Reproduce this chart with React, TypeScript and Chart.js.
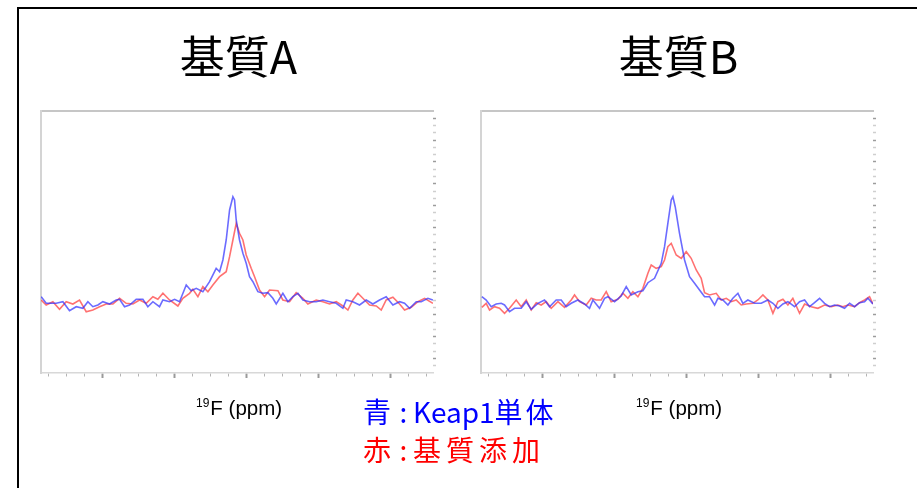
import React, { useEffect, useRef } from "react";
import { Chart, registerables } from "chart.js";

Chart.register(...registerables);

// ---- texts ----
const titleA = "基質A";
const titleB = "基質B";
const xAxisSup = "19";
const xAxisMain = "F (ppm)";
const legendBlueKey = "青";
const legendBlueName = ["Keap1", "単体"];
const legendRedKey = "赤";
const legendRedName = ["", "基質添加"];
const legendSep = ":";

// ---- axes (arbitrary ppm offset / intensity units) ----
const xMin = -0.85;
const xMax = 4.594;
const yMin = 0;
const yMax = 262;
const xTickValues = [-0.75, -0.5, -0.25, 0, 0.25, 0.5, 0.75, 1, 1.25, 1.5, 1.75, 2, 2.25, 2.5, 2.75, 3, 3.25, 3.5, 3.75, 4, 4.25, 4.5];
const rightTickCount = 36;

// ---- 基質A : blue (Keap1 alone) ----
const blueAx = [-0.847, -0.778, -0.639, -0.546, -0.454, -0.361, -0.269, -0.199, -0.13, -0.06,
  0.009, 0.102, 0.194, 0.241, 0.31, 0.38, 0.472, 0.565, 0.634, 0.704,
  0.796, 0.843, 0.935, 1.005, 1.074, 1.167, 1.236, 1.306, 1.398, 1.491,
  1.583, 1.63, 1.676, 1.722, 1.769, 1.815, 1.838, 1.861, 1.907, 1.954,
  2.0, 2.046, 2.093, 2.162, 2.231, 2.301, 2.37, 2.417, 2.509, 2.579,
  2.648, 2.718, 2.787, 2.88, 2.972, 3.065, 3.157, 3.25, 3.343, 3.389,
  3.481, 3.574, 3.667, 3.759, 3.852, 3.944, 4.037, 4.13, 4.199, 4.269,
  4.361, 4.431, 4.523, 4.593];
const blueAy = [76.3, 69.7, 69.7, 71.3, 62.3, 66.3, 64.7, 71.3, 66.3, 68,
  71.3, 69, 73, 73.7, 66.3, 68, 73.7, 73.7, 66.3, 71.3,
  66.3, 73, 71.3, 73.7, 71.3, 88, 82.3, 84.7, 81.3, 91.3,
  104.7, 101.3, 113, 133, 163, 176.3, 173, 153, 133, 119.7,
  109.7, 96.3, 91.3, 81.3, 79.7, 80.3, 74.7, 69, 79.7, 71.3,
  76.3, 79.7, 73, 71.3, 71.3, 73, 71.3, 69.7, 64.7, 73,
  71.3, 68, 73, 69, 73, 76.3, 68, 71.3, 69.7, 64.7,
  71.3, 71.3, 74.7, 73];

// ---- 基質A : red (with substrate) ----
const redAx = [-0.847, -0.778, -0.685, -0.593, -0.5, -0.407, -0.315, -0.222, -0.13, -0.037,
  0.056, 0.148, 0.241, 0.333, 0.426, 0.519, 0.611, 0.704, 0.773, 0.843,
  0.935, 1.051, 1.12, 1.213, 1.259, 1.329, 1.398, 1.468, 1.537, 1.63,
  1.722, 1.769, 1.815, 1.861, 1.907, 1.954, 2.0, 2.069, 2.116, 2.185,
  2.255, 2.324, 2.44, 2.509, 2.602, 2.694, 2.787, 2.856, 2.972, 3.065,
  3.157, 3.25, 3.343, 3.412, 3.481, 3.551, 3.62, 3.713, 3.806, 3.875,
  3.944, 4.037, 4.13, 4.199, 4.292, 4.384, 4.477, 4.593];
const redAy = [73, 68, 71.3, 63.7, 71.3, 69, 73, 61.3, 63, 66.3,
  69, 69, 74.7, 69.7, 69, 73, 69.7, 76.3, 73.7, 79.7,
  73, 67, 74.7, 79.7, 83.7, 76.3, 86.3, 81.3, 88, 96.3,
  101.3, 116.3, 133, 149.7, 139.7, 133, 118, 104.7, 96.3, 83,
  76.3, 83, 82.3, 73, 71.3, 80.3, 74.7, 69, 73, 71.3,
  69, 71.3, 67, 63, 73, 79.7, 74.7, 68, 67, 63,
  73, 75.7, 69, 63, 65.7, 71.3, 74.7, 69.7];

// ---- 基質B : blue ----
const blueBx = [-0.838, -0.778, -0.708, -0.639, -0.569, -0.523, -0.454, -0.384, -0.292, -0.222,
  -0.153, -0.06, 0.032, 0.102, 0.194, 0.264, 0.333, 0.403, 0.495, 0.588,
  0.657, 0.704, 0.796, 0.866, 0.912, 1.005, 1.097, 1.167, 1.236, 1.329,
  1.398, 1.468, 1.56, 1.653, 1.699, 1.745, 1.792, 1.815, 1.847, 1.907,
  1.977, 2.046, 2.116, 2.185, 2.255, 2.324, 2.394, 2.44, 2.509, 2.579,
  2.648, 2.718, 2.787, 2.856, 2.949, 3.042, 3.134, 3.204, 3.273, 3.343,
  3.412, 3.505, 3.574, 3.644, 3.713, 3.782, 3.852, 3.921, 3.991, 4.06,
  4.13, 4.199, 4.269, 4.338, 4.407, 4.477, 4.523, 4.593];
const blueBy = [76.3, 73, 66.3, 69, 69.7, 68, 61.3, 64.7, 64.7, 71.3,
  63.7, 69.7, 73, 66.3, 73, 73, 66.3, 69.7, 73, 69,
  64.7, 73, 64.7, 74.7, 76.3, 71.3, 77, 86.3, 78, 81.3,
  82.3, 90.3, 94.7, 109.7, 126.3, 149.7, 173, 176.3, 166.3, 139.7,
  113, 96.3, 89.7, 83, 76.3, 76.3, 68, 74.7, 73, 68,
  74.7, 79.7, 69.7, 73, 69.7, 69.7, 73, 69.7, 64.7, 69,
  71.3, 66.3, 71.3, 73, 66.3, 70.3, 74.7, 69.7, 66.3, 68,
  67, 64.7, 69.7, 66.3, 70.3, 71.3, 74.7, 69];

// ---- 基質B : red ----
const redBx = [-0.838, -0.778, -0.731, -0.662, -0.593, -0.523, -0.454, -0.361, -0.292, -0.222,
  -0.153, -0.083, -0.014, 0.056, 0.125, 0.218, 0.31, 0.403, 0.449, 0.519,
  0.611, 0.681, 0.75, 0.819, 0.889, 0.958, 1.051, 1.12, 1.19, 1.259,
  1.329, 1.398, 1.468, 1.514, 1.583, 1.653, 1.699, 1.745, 1.792, 1.861,
  1.931, 2.0, 2.069, 2.139, 2.208, 2.255, 2.324, 2.417, 2.486, 2.556,
  2.625, 2.694, 2.764, 2.833, 2.926, 2.995, 3.065, 3.134, 3.204, 3.273,
  3.343, 3.412, 3.481, 3.574, 3.644, 3.736, 3.829, 3.921, 4.014, 4.106,
  4.176, 4.245, 4.338, 4.407, 4.477, 4.546, 4.593];
const redBy = [65.7, 69.7, 63, 66.3, 64.7, 59.7, 64.7, 73, 66.3, 73,
  63, 70.3, 68, 71.3, 64.7, 71.3, 65.7, 73, 78, 71.3,
  68, 74.7, 73, 73, 81.3, 71.3, 73.7, 79.7, 74.7, 81.3,
  76.3, 84.7, 99.7, 108, 104.7, 106.3, 113, 126.3, 129.7, 118,
  114.7, 121.3, 114.7, 103, 94.7, 80.3, 78, 79.7, 73, 74.7,
  71.3, 73, 68, 69, 69.7, 73, 78, 73, 59.7, 71.3,
  73.7, 68, 74.7, 59.7, 69, 66.3, 64.7, 68, 66.3, 68,
  66.3, 68, 66.3, 70.3, 73, 76.3, 69];

const BLUE_LINE = "rgba(50,50,255,0.72)";
const RED_LINE = "rgba(255,45,45,0.68)";
const CJK = '"Noto Sans CJK JP", "Noto Sans CJK SC", sans-serif';
const LATIN = '"Liberation Sans", Arial, sans-serif';

type SpecProps = {
  title: string;
  bx: number[];
  by: number[];
  rx: number[];
  ry: number[];
  left: number;
};

function Spectrum({ title, bx, by, rx, ry, left }: SpecProps) {
  const ref = useRef<HTMLCanvasElement>(null);
  useEffect(() => {
    if (!ref.current) return;
    const blue = bx.map((x, i) => ({ x, y: by[i] }));
    const red = rx.map((x, i) => ({ x, y: ry[i] }));
    const xLabelPlugin = {
      id: "xLabel",
      afterDraw(chart: any) {
        const { ctx, chartArea } = chart;
        const cx = (chartArea.left + chartArea.right) / 2;
        const x0 = cx - 41;
        ctx.save();
        ctx.fillStyle = "#000";
        ctx.textAlign = "left";
        ctx.textBaseline = "alphabetic";
        ctx.font = `12px ${LATIN}`;
        ctx.fillText(xAxisSup, x0, chartArea.bottom + 34);
        const w = ctx.measureText(xAxisSup).width;
        ctx.font = `20.5px ${LATIN}`;
        ctx.fillText(xAxisMain, x0 + w + 1, chartArea.bottom + 41.5);
        ctx.restore();
      },
    };
    const chart = new Chart(ref.current, {
      type: "line",
      data: {
        datasets: [
          { data: blue, borderColor: BLUE_LINE, borderWidth: 1.6, pointRadius: 0, tension: 0, xAxisID: "x", yAxisID: "y" },
          { data: red, borderColor: RED_LINE, borderWidth: 1.6, pointRadius: 0, tension: 0, xAxisID: "x", yAxisID: "y" },
        ],
      },
      options: {
        responsive: false,
        animation: false,
        layout: { padding: { left: 21, right: 24, top: 0, bottom: 62 } },
        plugins: {
          legend: { display: false },
          tooltip: { enabled: false },
          title: {
            display: true,
            text: title,
            color: "#000",
            font: { family: CJK, size: 45, weight: "normal", lineHeight: 1.2 },
            padding: { top: 20, bottom: 27 },
          },
        },
        scales: {
          x: {
            type: "linear",
            position: "bottom",
            min: xMin,
            max: xMax,
            afterBuildTicks: (s: any) => {
              s.ticks = xTickValues.map((v) => ({ value: v }));
            },
            ticks: { display: false },
            grid: {
              display: true,
              drawOnChartArea: false,
              drawTicks: true,
              tickLength: 5,
              tickColor: (c: any) => (c.tick && Number.isInteger(c.tick.value) ? "#9a9a9a" : "#b4b4b4"),
              tickWidth: (c: any) => (c.tick && Number.isInteger(c.tick.value) ? 2 : 1),
              tickBorderDash: (c: any) => (c.tick && Number.isInteger(c.tick.value) ? [] : [3, 20]),
            },
            border: { display: true, color: "#d8d8d8", width: 1.5 },
          },
          xTop: {
            type: "linear",
            position: "top",
            min: xMin,
            max: xMax,
            ticks: { display: false },
            grid: { display: false, drawTicks: false },
            border: { display: true, color: "#c6c6c6", width: 2 },
          },
          y: {
            type: "linear",
            position: "left",
            min: yMin,
            max: yMax,
            ticks: { display: false },
            grid: { display: false, drawTicks: false },
            border: { display: true, color: "#d4d4d4", width: 2 },
          },
          yRight: {
            type: "linear",
            position: "right",
            min: yMin,
            max: yMax,
            afterBuildTicks: (s: any) => {
              const t = [];
              for (let i = 1; i < rightTickCount; i++) t.push({ value: yMin + ((yMax - yMin) * i) / rightTickCount });
              s.ticks = t;
            },
            ticks: { display: false },
            grid: {
              display: true,
              drawOnChartArea: false,
              drawTicks: true,
              tickLength: 3,
              tickColor: (c: any) => (c.index % 3 === 1 ? "#9c9c9c" : "#cfcfcf"),
              tickWidth: 1.5,
            },
            border: { display: false },
          },
        },
      } as any,
      plugins: [xLabelPlugin],
    });
    return () => chart.destroy();
  }, [title, bx, by, rx, ry]);
  return (
    <canvas
      ref={ref}
      width={440}
      height={430}
      style={{ position: "absolute", left, top: 10, width: 440, height: 430 }}
    />
  );
}

function LegendLine({ keyChar, name, color, spacing }: { keyChar: string; name: string[]; color: string; spacing: number }) {
  return (
    <div style={{ color, height: 38 }}>
      <span style={{ letterSpacing: 3 }}>{keyChar}</span>
      <span style={{ display: "inline-block", width: 19, textAlign: "center" }}>{legendSep}</span>
      <span>{name[0]}</span>
      <span style={{ letterSpacing: spacing }}>{name[1]}</span>
    </div>
  );
}

export default function App() {
  return (
    <div style={{ position: "fixed", left: 0, top: 0, width: 917, height: 488, background: "#fff", overflow: "hidden" }}>
      <div
        style={{
          position: "absolute",
          left: 17,
          top: 7,
          width: 920,
          height: 500,
          borderLeft: "2px solid #000",
          borderTop: "2px solid #000",
          boxSizing: "border-box",
        }}
      />
      <Spectrum title={titleA} bx={blueAx} by={blueAy} rx={redAx} ry={redAy} left={20} />
      <Spectrum title={titleB} bx={blueBx} by={blueBy} rx={redBx} ry={redBy} left={460} />
      <div
        style={{
          position: "absolute",
          left: 363,
          top: 392,
          fontFamily: CJK,
          fontSize: 28,
          lineHeight: "38px",
          whiteSpace: "nowrap",
        }}
      >
        <LegendLine keyChar={legendBlueKey} name={legendBlueName} color="#0000ff" spacing={3} />
        <LegendLine keyChar={legendRedKey} name={legendRedName} color="#ff0000" spacing={5} />
      </div>
    </div>
  );
}
